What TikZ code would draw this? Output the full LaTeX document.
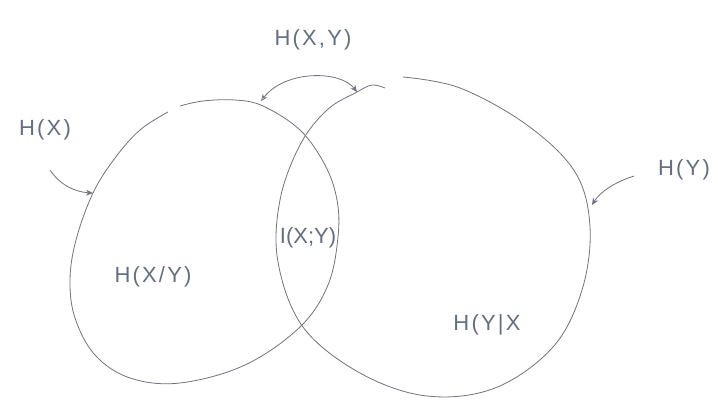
\documentclass[tikz,border=0pt]{standalone}
\usepackage{fontspec}
\setmainfont{Liberation Sans}
\newfontfamily\handfont[LetterSpace=10]{Liberation Sans}
\newfontfamily\handtight[LetterSpace=0]{Liberation Sans}
\usetikzlibrary{arrows.meta}
\definecolor{pen}{RGB}{112,115,125}
\definecolor{ink}{RGB}{100,110,130}
\begin{document}
\begin{tikzpicture}[x=1pt,y=-1pt,
  penline/.style={draw=pen,line width=0.8pt},
  lbl/.style={text=ink,font=\handfont\fontsize{22}{26}\selectfont,inner sep=1pt},
  tip/.style={-{Stealth[length=7pt,width=6pt]}}]
\useasboundingbox (0,0) rectangle (718,402);
% left set H(X)
\draw[penline] plot[smooth,tension=0.6] coordinates {(180,106) (203,101) (235,100) (263,106) (300,130) (325,165) (337,200) (338,237) (328,285) (300,327) (245,365) (180,383) (130,378) (95,355) (75,318) (70,280) (76,240) (93,193) (115,158) (140,130) (168,112)};
% right set H(Y)
\draw[penline] plot[smooth,tension=0.6] coordinates {(403,77) (460,88) (527,125) (575,172) (590,227) (582,290) (553,347) (495,388) (427,396) (360,373) (303,327) (278,262) (280,200) (300,145) (327,110) (357,92) (372,85) (385,88)};
\node[lbl] (hxy) at (313,40) {H(X,Y)};
\node[lbl] (hx) at (45,130) {H(X)};
\node[lbl] (hy) at (684,170) {H(Y)};
\node[lbl,font=\handtight\fontsize{22}{26}\selectfont] (ixy) at (308,238) {I(X;Y)};
\node[lbl] (hxgy) at (153,277) {H(X/Y)};
\node[lbl] (hygx) at (487,325) {H(Y|X};
\coordinate (a1) at (261,101);
\coordinate (a2) at (357,92);
\coordinate (b1) at (50,170);
\coordinate (b2) at (93,193);
\coordinate (c1) at (634,176);
\coordinate (c2) at (592,205);
\draw[penline,{Stealth[open,length=7pt,width=6pt]}-{Stealth[length=7pt,width=6pt]}] (a1) .. controls (285,70) and (340,70) .. (a2);
\draw[penline,tip] (b1) .. controls (60,185) and (75,192) .. (b2);
\draw[penline,tip] (c1) .. controls (615,182) and (600,192) .. (c2);
\end{tikzpicture}
\end{document}
